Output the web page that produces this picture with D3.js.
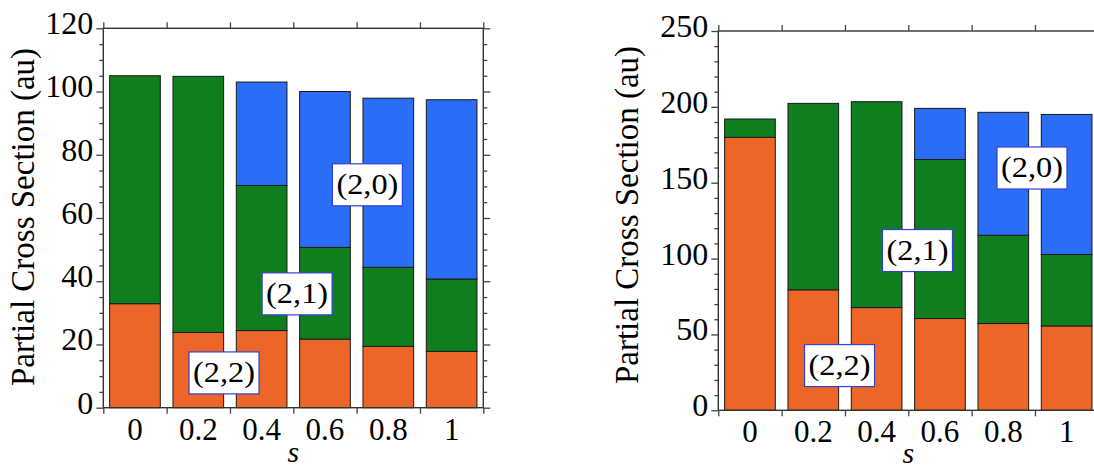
<!DOCTYPE html>
<html><head><meta charset="utf-8">
<script src="https://cdn.jsdelivr.net/npm/d3@7"></script>
<style>body{margin:0;background:#fff} text{font-family:"Liberation Serif",Tinos,"Times New Roman",Times,"DejaVu Serif",serif;}</style>
</head><body><svg id="c" width="1094" height="468"></svg>
<script>
const categories = ["0","0.2","0.4","0.6","0.8","1"];
const seriesNames = ["(2,2)","(2,1)","(2,0)"];
const leftS22 = [32.9, 23.8, 24.4, 21.7, 19.4, 17.8];
const leftS21 = [72.1, 81.0, 45.9, 29.0, 25.0, 22.9];
const leftS20 = [0, 0, 32.7, 49.3, 53.5, 56.7];
const rightS22 = [179.9, 79.4, 67.7, 60.5, 57.2, 55.6];
const rightS21 = [12.1, 122.9, 135.7, 104.8, 58.2, 47.1];
const rightS20 = [0, 0, 0, 33.7, 81.0, 92.3];
const leftYTicks = [0,20,40,60,80,100,120];
const rightYTicks = [0,50,100,150,200,250];
const yTitle = "Partial Cross Section (au)";
const xTitle = "s";

const colors = {"(2,2)":"#ED6527","(2,1)":"#107E1E","(2,0)":"#2A6EF8"};
const svg = d3.select("#c");

function panel(cfg){
  const g = svg.append("g");
  const rows = categories.map((c,i)=>({cat:c,"(2,2)":cfg.s22[i],"(2,1)":cfg.s21[i],"(2,0)":cfg.s20[i]}));
  const stack = d3.stack().keys(seriesNames)(rows);
  const x = d3.scaleBand().domain(categories).range([cfg.x0,cfg.x1]).paddingInner(0.2).paddingOuter(0.1);
  const xi = d3.scaleLinear().domain([0,categories.length]).range([cfg.x0,cfg.x1]);
  const yMax = cfg.ticks[cfg.ticks.length-1];
  const y = d3.scaleLinear().domain([0,yMax]).range([cfg.yb,cfg.yt]);

  stack.forEach(layer=>{
    g.append("g").selectAll("rect").data(layer.filter(d=>d[1]-d[0]>0)).join("rect")
      .attr("x",d=>x(d.data.cat)).attr("width",x.bandwidth())
      .attr("y",d=>y(d[1])).attr("height",d=>y(d[0])-y(d[1]))
      .attr("fill",colors[layer.key]).attr("stroke","#1a1a1a").attr("stroke-width",1);
  });

  g.append("rect").attr("x",cfg.x0).attr("y",cfg.yt).attr("width",cfg.x1-cfg.x0).attr("height",cfg.yb-cfg.yt)
    .attr("fill","none").attr("stroke","#333").attr("stroke-width",1.4);

  const minors = d3.range(0,yMax+0.001,cfg.minor).filter(v=>!cfg.ticks.includes(v));
  const styleAxis = s=>{ s.attr("font-family",null).attr("font-size",null); s.select(".domain").remove(); s.selectAll("line").attr("stroke","#444").attr("stroke-width",1.3); };

  const la = g.append("g").attr("transform",`translate(${cfg.x0},0)`)
    .call(d3.axisLeft(y).tickValues(cfg.ticks).tickSize(7).tickPadding(3).tickFormat(d3.format("d")));
  styleAxis(la);
  la.selectAll("text").style("font-size","32px").attr("fill","#000").attr("dy","0.17em");
  const lm = g.append("g").attr("transform",`translate(${cfg.x0},0)`)
    .call(d3.axisLeft(y).tickValues(minors).tickSize(4).tickFormat(""));
  styleAxis(lm);
  const ra = g.append("g").attr("transform",`translate(${cfg.x1},0)`)
    .call(d3.axisRight(y).tickValues(cfg.ticks).tickSize(7).tickFormat(""));
  styleAxis(ra);
  const rm = g.append("g").attr("transform",`translate(${cfg.x1},0)`)
    .call(d3.axisRight(y).tickValues(minors).tickSize(4).tickFormat(""));
  styleAxis(rm);
  const ta = g.append("g").attr("transform",`translate(0,${cfg.yt})`)
    .call(d3.axisTop(xi).tickValues(d3.range(0,categories.length+1)).tickSize(6).tickFormat(""));
  styleAxis(ta);
  const ba = g.append("g").attr("transform",`translate(0,${cfg.yb})`)
    .call(d3.axisBottom(xi).tickValues(d3.range(0,categories.length+1)).tickSize(6).tickFormat(""));
  styleAxis(ba);

  g.append("g").selectAll("text").data(categories).join("text")
    .attr("x",d=>x(d)+x.bandwidth()/2).attr("y",cfg.yb+32)
    .attr("text-anchor","middle").style("font-size","31px").text(d=>d);

  g.append("text").attr("transform",`translate(${cfg.titleX},${cfg.titleY}) rotate(-90)`)
    .attr("text-anchor","middle").style("font-size","33px").text(yTitle);
  g.append("text").attr("x",(cfg.x0+cfg.x1)/2).attr("y",cfg.sY)
    .attr("text-anchor","middle").style("font-style","italic").style("font-size","30px").text(xTitle);

  seriesNames.forEach((n,i)=>{
    const [bu,v] = cfg.labels[i];
    const cx = xi(bu), cy = y(v);
    const lg = g.append("g");
    lg.append("rect").attr("x",cx-35).attr("y",cy-21).attr("width",70).attr("height",42)
      .attr("fill","#fff").attr("stroke","#3340d8").attr("stroke-width",1.2);
    lg.append("text").attr("x",cx).attr("y",cy+9).attr("text-anchor","middle")
      .style("font-size","30px").attr("textLength",62).attr("lengthAdjust","spacingAndGlyphs").text(n);
  });
}

panel({s22:leftS22,s21:leftS21,s20:leftS20,ticks:leftYTicks,minor:5,
  x0:103.3,x1:483.3,yt:28.3,yb:407.7,titleX:34,titleY:217,sY:462,
  labels:[[1.906,11.0],[3.06,36.0],[4.17,70.5]]});
panel({s22:rightS22,s21:rightS21,s20:rightS20,ticks:rightYTicks,minor:10,
  x0:718.3,x1:1098.3,yt:31,yb:410.3,titleX:638,titleY:215,sY:463,
  labels:[[1.914,29.5],[3.145,105.3],[4.953,159.7]]});
</script></body></html>
